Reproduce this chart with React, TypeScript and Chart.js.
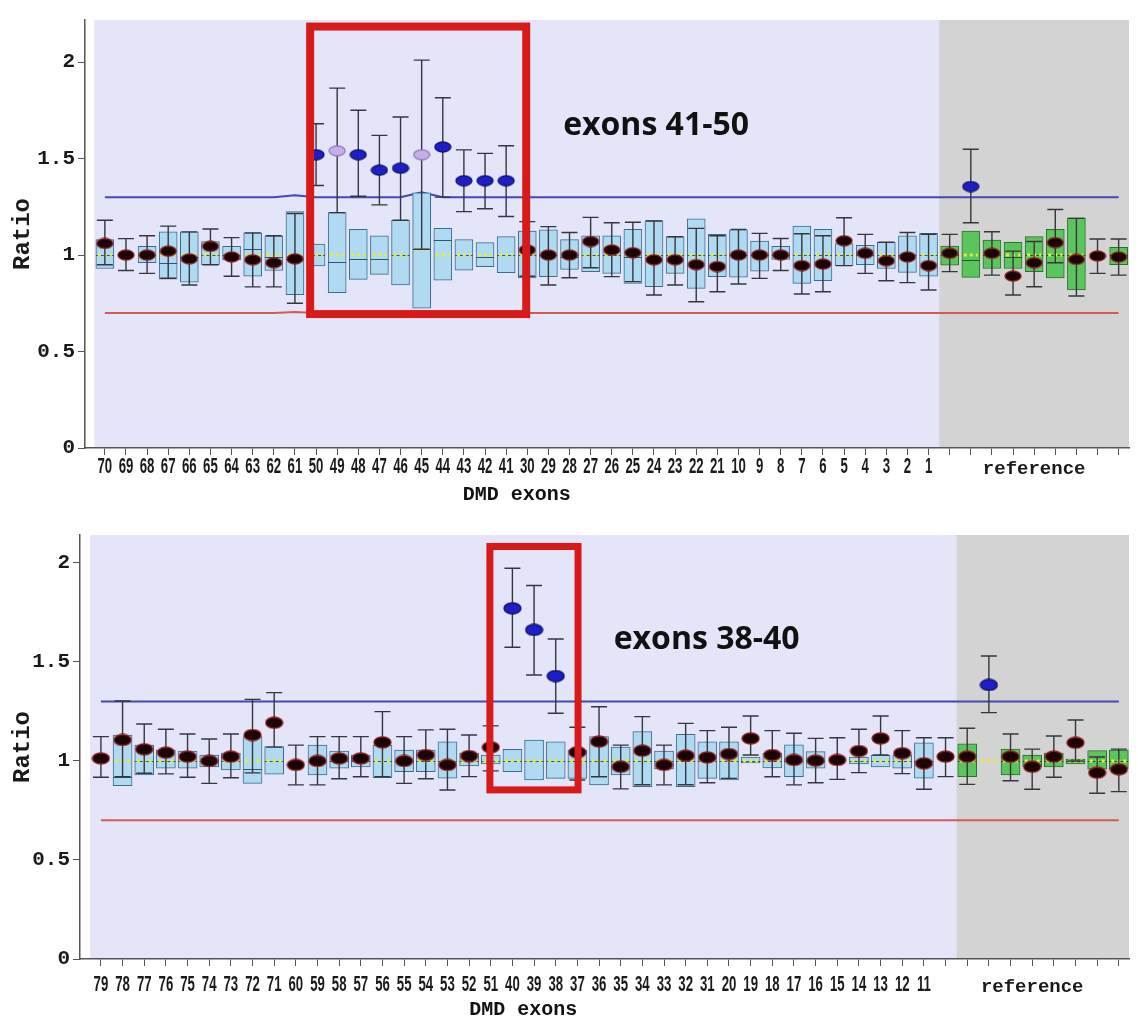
import React, { useEffect, useRef } from "react";
import { Chart, registerables } from "chart.js";

Chart.register(...registerables);

// ---------------- shared ----------------
const yTickValues = [0, 0.5, 1, 1.5, 2];

// ---------------- top panel: exons 41-50 ----------------
const topExonLabels = ["70","69","68","67","66","65","64","63","62","61","50","49","48","47","46","45","44","43","42","41","30","29","28","27","26","25","24","23","22","21","10","9","8","7","6","5","4","3","2","1"];
const topReferenceLabels = ["", "", "", "", "reference", "", "", "", ""];
const topSample = [1.06, 1.0, 1.0, 1.02, 0.98, 1.045, 0.99, 0.975, 0.96, 0.98,
  1.52, 1.54, 1.52, 1.44, 1.45, 1.52, 1.56, 1.385, 1.385, 1.385,
  1.026, 1.0, 1.0, 1.07, 1.026, 1.012, 0.975, 0.975, 0.95, 0.94,
  1.0, 1.0, 1.0, 0.945, 0.953, 1.074, 1.009, 0.97, 0.99, 0.945,
  1.009, 1.355, 1.009, 0.891, 0.96, 1.064, 0.977, 0.995, 0.99];
const topErrLow = [0.95, 0.92, 0.905, 0.88, 0.845, 0.95, 0.89, 0.835, 0.835, 0.75,
  1.36, 1.22, 1.305, 1.26, 1.18, 1.03, 1.30, 1.225, 1.24, 1.20,
  0.89, 0.845, 0.882, 0.934, 0.888, 0.862, 0.793, 0.845, 0.758, 0.81,
  0.85, 0.879, 0.92, 0.798, 0.81, 0.945, 0.905, 0.867, 0.857, 0.819,
  0.914, 1.167, 0.896, 0.793, 0.836, 0.96, 0.788, 0.905, 0.896];
const topErrHigh = [1.18, 1.085, 1.10, 1.15, 1.12, 1.135, 1.09, 1.115, 1.10, 1.215,
  1.68, 1.865, 1.75, 1.62, 1.715, 2.01, 1.815, 1.545, 1.527, 1.566,
  1.173, 1.147, 1.117, 1.195, 1.167, 1.17, 1.176, 1.095, 1.138, 1.10,
  1.133, 1.112, 1.086, 1.11, 1.10, 1.193, 1.107, 1.066, 1.117, 1.108,
  1.107, 1.548, 1.121, 1.02, 1.07, 1.236, 1.19, 1.083, 1.083];
const topBoxLow = [0.93, null, 0.96, 0.875, 0.86, 0.95, 0.975, 0.89, 0.92, 0.795,
  0.943, 0.805, 0.874, 0.90, 0.845, 0.724, 0.87, 0.922, 0.94, 0.908,
  0.882, 0.888, 0.926, 0.914, 0.905, 0.853, 0.836, 0.905, 0.827, 0.888,
  0.885, 0.917, 0.977, 0.853, 0.867, 0.945, 0.95, 0.93, 0.91, 0.89,
  0.948, 0.884, 0.93, 0.93, 0.914, 0.882, 0.819, null, 0.95];
const topBoxHigh = [1.08, null, 1.045, 1.12, 1.12, 1.07, 1.045, 1.115, 1.10, 1.225,
  1.057, 1.22, 1.133, 1.10, 1.18, 1.323, 1.138, 1.08, 1.064, 1.095,
  1.124, 1.13, 1.08, 1.10, 1.10, 1.133, 1.178, 1.095, 1.187, 1.107,
  1.13, 1.072, 1.045, 1.15, 1.133, 1.06, 1.05, 1.066, 1.10, 1.112,
  1.047, 1.124, 1.078, 1.066, 1.095, 1.133, 1.193, null, 1.04];
const topBoxMedian = [1.0, null, 1.0, 0.96, 0.99, 1.0, 1.0, 1.03, 0.99, 0.98,
  1.0, 0.965, 0.98, 0.98, 1.0, 1.03, 1.08, 1.0, 0.99, 1.0,
  1.0, 1.0, 0.99, 1.0, 1.0, 0.99, 1.0, 1.0, 1.0, 1.0,
  1.0, 1.0, 1.0, 1.0, 1.0, 1.0, 1.0, 1.0, 1.0, 1.0,
  1.0, 0.974, 1.0, 0.99, 1.0, 1.0, 1.0, null, 1.0];
const topBoxMean = [1.0, null, 1.0, 1.0, 1.0, 1.0, 1.0, 1.0, 1.0, 1.0,
  1.0, 1.0, 1.0, 1.0, 1.0, 1.03, 1.0, 1.0, 1.0, 1.0,
  1.0, 1.0, 1.0, 1.0, 1.0, 1.0, 1.0, 1.0, 1.0, 1.0,
  1.0, 1.0, 1.0, 1.0, 1.0, 1.0, 1.0, 1.0, 1.0, 1.0,
  1.0, 1.0, 1.0, 1.0, 1.0, 1.0, 1.0, null, 1.0];
const topUpperLimit = [1.3, 1.3, 1.3, 1.3, 1.3, 1.3, 1.3, 1.3, 1.3, 1.31,
  1.3, 1.3, 1.3, 1.3, 1.3, 1.325, 1.3, 1.3, 1.3, 1.3,
  1.3, 1.3, 1.3, 1.3, 1.3, 1.3, 1.3, 1.3, 1.3, 1.3,
  1.3, 1.3, 1.3, 1.3, 1.3, 1.3, 1.3, 1.3, 1.3, 1.3,
  1.3, 1.3, 1.3, 1.3, 1.3, 1.3, 1.3, 1.3, 1.3];
const topLowerLimit = [0.7, 0.7, 0.7, 0.7, 0.7, 0.7, 0.7, 0.7, 0.7, 0.705,
  0.7, 0.7, 0.7, 0.7, 0.7, 0.71, 0.7, 0.7, 0.7, 0.7,
  0.7, 0.7, 0.7, 0.7, 0.7, 0.7, 0.7, 0.7, 0.7, 0.7,
  0.7, 0.7, 0.7, 0.7, 0.7, 0.7, 0.7, 0.7, 0.7, 0.7,
  0.7, 0.7, 0.7, 0.7, 0.7, 0.7, 0.7, 0.7, 0.7];
const topLowConfidence = ["49", "45"];

// ---------------- bottom panel: exons 38-40 ----------------
const bottomExonLabels = ["79","78","77","76","75","74","73","72","71","60","59","58","57","56","55","54","53","52","51","40","39","38","37","36","35","34","33","32","31","20","19","18","17","16","15","14","13","12","11",""];
const bottomReferenceLabels = ["", "", "", "reference", "", "", "", ""];
const bottomSample = [1.013, 1.106, 1.059, 1.042, 1.022, 1.0, 1.022, 1.131, 1.193, 0.98,
  1.0, 1.013, 1.013, 1.094, 1.0, 1.03, 0.98, 1.025, 1.069, 1.771,
  1.662, 1.429, 1.044, 1.098, 0.971, 1.052, 0.98, 1.027, 1.018, 1.035,
  1.114, 1.03, 1.005, 1.002, 1.005, 1.05, 1.114, 1.039, 0.988, 1.022,
  1.022, 1.384, 1.022, 0.971, 1.022, 1.092, 0.941, 0.958];
const bottomErrLow = [0.918, 0.92, 0.938, 0.935, 0.918, 0.887, 0.915, 0.94, 1.07, 0.879,
  0.879, 0.91, 0.92, 0.92, 0.887, 0.91, 0.853, 0.921, 0.95, 1.574,
  1.434, 1.241, 0.904, 0.92, 0.859, 0.88, 0.879, 0.88, 0.89, 0.912,
  1.03, 0.92, 0.879, 0.89, 0.907, 0.941, 1.03, 0.936, 0.857, 0.921,
  0.882, 1.244, 0.90, 0.857, 0.918, 1.0, 0.837, 0.845];
const bottomErrHigh = [1.123, 1.303, 1.187, 1.16, 1.136, 1.111, 1.136, 1.311, 1.345, 1.08,
  1.123, 1.123, 1.123, 1.249, 1.123, 1.157, 1.16, 1.131, 1.177, 1.973,
  1.886, 1.616, 1.17, 1.274, 1.08, 1.224, 1.08, 1.19, 1.153, 1.17,
  1.227, 1.153, 1.14, 1.114, 1.117, 1.16, 1.227, 1.153, 1.117, 1.117,
  1.165, 1.53, 1.136, 1.06, 1.126, 1.207, 1.02, 1.06];
const bottomBoxLow = [null, 0.875, 0.93, 0.963, 0.963, 0.97, 0.955, 0.887, 0.933, null,
  0.93, 0.963, 0.97, 0.915, 0.946, 0.946, 0.913, 0.975, 0.985, 0.946,
  0.904, 0.912, 0.912, 0.879, 0.93, 0.87, 0.96, 0.87, 0.912, 0.904,
  0.99, 0.965, 0.921, 0.963, null, 0.985, 0.97, 0.963, 0.913, null,
  0.921, null, 0.93, 0.97, 0.97, 0.985, 0.958, 0.96];
const bottomBoxHigh = [null, 1.131, 1.08, 1.055, 1.05, 1.03, 1.04, 1.123, 1.072, null,
  1.08, 1.05, 1.03, 1.08, 1.055, 1.055, 1.097, 1.04, 1.03, 1.059,
  1.106, 1.097, 1.055, 1.123, 1.07, 1.148, 1.05, 1.135, 1.097, 1.097,
  1.02, 1.04, 1.081, 1.047, null, 1.02, 1.028, 1.03, 1.092, null,
  1.087, null, 1.06, 1.03, 1.04, 1.01, 1.052, 1.055];
const bottomBoxMedian = [null, 0.92, 1.0, 1.0, 1.0, 1.0, 1.0, 0.96, 1.0, null,
  1.0, 1.0, 1.0, 1.0, 1.0, 1.0, 1.0, 1.0, 1.0, 1.0,
  1.0, 1.0, 1.0, 1.0, 1.0, 1.0, 1.0, 1.0, 1.0, 1.0,
  1.0, 1.0, 1.0, 1.0, null, 1.0, 1.0, 1.0, 1.0, null,
  1.0, null, 1.0, 1.0, 1.0, 1.0, 1.0, 1.0];
const bottomBoxMean = [null, 1.0, 1.0, 1.0, 1.0, 1.0, 1.0, 1.0, 1.0, null,
  1.0, 1.0, 1.0, 1.0, 1.0, 1.0, 1.0, 1.0, 1.0, 1.0,
  1.0, 1.0, 1.0, 1.0, 1.0, 1.0, 1.0, 1.0, 1.0, 1.0,
  1.0, 1.0, 1.0, 1.0, null, 1.0, 1.0, 1.0, 1.0, null,
  1.0, 1.0, 1.0, 1.0, 1.0, 1.0, 1.0, 1.0];
const bottomUpperLimit = [1.3, 1.3, 1.3, 1.3, 1.3, 1.3, 1.3, 1.3, 1.3, 1.3,
  1.3, 1.3, 1.3, 1.3, 1.3, 1.3, 1.3, 1.3, 1.3, 1.3,
  1.3, 1.3, 1.3, 1.3, 1.3, 1.3, 1.3, 1.3, 1.3, 1.3,
  1.3, 1.3, 1.3, 1.3, 1.3, 1.3, 1.3, 1.3, 1.3, 1.3,
  1.3, 1.3, 1.3, 1.3, 1.3, 1.3, 1.3, 1.3];
const bottomLowerLimit = [0.7, 0.7, 0.7, 0.7, 0.7, 0.7, 0.7, 0.7, 0.7, 0.7,
  0.7, 0.7, 0.7, 0.7, 0.7, 0.7, 0.7, 0.7, 0.7, 0.7,
  0.7, 0.7, 0.7, 0.7, 0.7, 0.7, 0.7, 0.7, 0.7, 0.7,
  0.7, 0.7, 0.7, 0.7, 0.7, 0.7, 0.7, 0.7, 0.7, 0.7,
  0.7, 0.7, 0.7, 0.7, 0.7, 0.7, 0.7, 0.7];
const bottomLowConfidence: string[] = [];

// ---------------- styling ----------------
const MONO = "'Liberation Mono', 'DejaVu Sans Mono', monospace";
const LABEL_FONT = "'Liberation Sans', 'DejaVu Sans', sans-serif";
const NOTE_FONT = "'Open Sans', 'Noto Sans', sans-serif";

type Spec = {
  exonLabels: string[]; refLabels: string[]; sample: number[]; errLow: number[]; errHigh: number[];
  boxLow: (number | null)[]; boxHigh: (number | null)[]; median: (number | null)[]; mean: (number | null)[];
  upper: number[]; lower: number[]; lowConfidence: string[];
  xMin: number; xMax: number; yMax: number;
  highlight: { from: number; to: number; low: number; high: number; width: number };
  note: { text: string; x: number; y: number };
  height: number; axisWidth: number; axisHeight: number; padTop: number; labelGap: number;
  boxWidth: number; titleGap: number; dot: [number, number];
};

const topSpec: Spec = {
  exonLabels: topExonLabels, refLabels: topReferenceLabels, sample: topSample, errLow: topErrLow, errHigh: topErrHigh,
  boxLow: topBoxLow, boxHigh: topBoxHigh, median: topBoxMedian, mean: topBoxMean,
  upper: topUpperLimit, lower: topLowerLimit, lowConfidence: topLowConfidence,
  xMin: -0.94, xMax: 48.49, yMax: 2.218,
  highlight: { from: 9.72, to: 19.95, low: 0.694, high: 2.184, width: 8 },
  note: { text: "exons 41-50", x: 26.1, y: 1.67 },
  height: 508, axisWidth: 85, axisHeight: 60, padTop: 20, labelGap: 8, boxWidth: 18, titleGap: 47, dot: [16, 10],
};

const bottomSpec: Spec = {
  exonLabels: bottomExonLabels, refLabels: bottomReferenceLabels, sample: bottomSample, errLow: bottomErrLow, errHigh: bottomErrHigh,
  boxLow: bottomBoxLow, boxHigh: bottomBoxHigh, median: bottomBoxMedian, mean: bottomBoxMean,
  upper: bottomUpperLimit, lower: bottomLowerLimit, lowConfidence: bottomLowConfidence,
  xMin: -0.966, xMax: 47.47, yMax: 2.141,
  highlight: { from: 17.96, to: 22.03, low: 0.854, high: 2.083, width: 7 },
  note: { text: "exons 38-40", x: 27.97, y: 1.611 },
  height: 513, axisWidth: 80, axisHeight: 62, padTop: 27, labelGap: 15, boxWidth: 19, titleGap: 51, dot: [17, 11],
};

function ellipseSprite(fill: string, stroke: string, w: number, h: number) {
  const c = document.createElement("canvas");
  c.width = w + 2;
  c.height = h + 2;
  const g = c.getContext("2d")!;
  g.beginPath();
  g.ellipse((w + 2) / 2, (h + 2) / 2, w / 2, h / 2, 0, 0, Math.PI * 2);
  g.fillStyle = fill;
  g.fill();
  g.lineWidth = 1.3;
  g.strokeStyle = stroke;
  g.stroke();
  return c;
}

function buildChart(canvas: HTMLCanvasElement, spec: Spec) {
  const labels = [...spec.exonLabels, ...spec.refLabels];
  const n = labels.length;
  const refStart = spec.exonLabels.length;
  const idx = labels.map((_, i) => i);
  const [dw, dh] = spec.dot;
  const black = ellipseSprite("#1a0406", "#8a1c1c", dw, dh);
  const blue = ellipseSprite("#1e1ec8", "#12126e", dw, dh);
  const lav = ellipseSprite("#c6aee6", "#8f78c4", dw, dh);
  const styles = idx.map((i) =>
    spec.lowConfidence.includes(labels[i]) ? lav : spec.sample[i] > spec.upper[i] ? blue : black
  );
  const boxes = idx
    .filter((i) => spec.boxLow[i] != null)
    .map((i) => ({ x: i, y: [spec.boxLow[i] as number, spec.boxHigh[i] as number] }));

  const decor = {
    id: "decor",
    beforeDraw(chart: any) {
      const { ctx, chartArea: a, scales } = chart;
      const x = scales.x;
      ctx.save();
      ctx.fillStyle = "#ffffff";
      ctx.fillRect(0, 0, chart.width, chart.height);
      const xa = x.getPixelForValue(-0.5);
      const xb = x.getPixelForValue(refStart - 0.5);
      const xc = Math.min(x.getPixelForValue(n - 0.5), a.right);
      ctx.fillStyle = "#e5e5f9";
      ctx.fillRect(xa, a.top, xb - xa, a.bottom - a.top - 1);
      ctx.fillStyle = "#d3d3d3";
      ctx.fillRect(xb, a.top, xc - xb, a.bottom - a.top - 1);
      ctx.restore();
    },
    afterDatasetDraw(chart: any, args: any) {
      if (args.index !== 1) return;
      const { ctx, scales } = chart;
      const x = scales.x, y = scales.y;
      const half = spec.boxWidth / 2;
      const cap = 8;
      ctx.save();
      idx.forEach((i) => {
        const cx = x.getPixelForValue(i);
        const med = spec.median[i];
        if (med != null) {
          ctx.setLineDash([]);
          ctx.strokeStyle = i >= refStart ? "#1f5a1f" : "#2d5577";
          ctx.lineWidth = 1;
          const py = Math.round(y.getPixelForValue(med)) + 0.5;
          ctx.beginPath();
          ctx.moveTo(cx - half, py);
          ctx.lineTo(cx + half, py);
          ctx.stroke();
        }
        const mean = spec.mean[i];
        if (mean != null) {
          ctx.strokeStyle = "#e4ec3c";
          ctx.lineWidth = 3;
          ctx.setLineDash([3, 3]);
          const py = y.getPixelForValue(mean);
          ctx.beginPath();
          ctx.moveTo(cx - half + 2, py);
          ctx.lineTo(cx + half - 2, py);
          ctx.stroke();
        }
        ctx.setLineDash([]);
        ctx.strokeStyle = "#36363f";
        ctx.lineWidth = 1.4;
        const yl = y.getPixelForValue(spec.errLow[i]);
        const yh = y.getPixelForValue(spec.errHigh[i]);
        ctx.beginPath();
        ctx.moveTo(cx, yl);
        ctx.lineTo(cx, yh);
        ctx.moveTo(cx - cap, yl);
        ctx.lineTo(cx + cap, yl);
        ctx.moveTo(cx - cap, yh);
        ctx.lineTo(cx + cap, yh);
        ctx.stroke();
      });
      ctx.restore();
    },
    afterDraw(chart: any) {
      const { ctx, chartArea: a, scales } = chart;
      const x = scales.x, y = scales.y;
      const h = spec.highlight;
      ctx.save();
      // category labels under the x axis, narrow like the original
      ctx.fillStyle = "#1a1a1a";
      ctx.textAlign = "center";
      ctx.textBaseline = "top";
      x.ticks.forEach((t: any) => {
        const text = labels[t.value] ?? "";
        if (!text) return;
        const px = x.getPixelForValue(t.value);
        const py = a.bottom + spec.labelGap;
        ctx.save();
        ctx.translate(px, py);
        if (t.value >= refStart) {
          ctx.font = `bold 19px ${MONO}`;
          ctx.fillText(text, 0, 4);
        } else {
          ctx.scale(0.6, 1);
          ctx.font = `bold 22px ${LABEL_FONT}`;
          ctx.fillText(text, 0, 0);
        }
        ctx.restore();
      });
      // highlight box
      const x0 = x.getPixelForValue(h.from);
      const x1 = x.getPixelForValue(h.to);
      const y0 = y.getPixelForValue(h.high);
      const y1 = y.getPixelForValue(h.low);
      ctx.strokeStyle = "#d71a1a";
      ctx.lineWidth = h.width;
      ctx.strokeRect(x0, y0, x1 - x0, y1 - y0);
      // note
      ctx.fillStyle = "#111111";
      ctx.textAlign = "center";
      ctx.textBaseline = "middle";
      ctx.font = `bold 32px ${NOTE_FONT}`;
      ctx.fillText(spec.note.text, x.getPixelForValue(spec.note.x), y.getPixelForValue(spec.note.y));
      // x axis title
      ctx.font = `bold 20px ${MONO}`;
      ctx.fillText("DMD exons", x.getPixelForValue((refStart - 1) / 2), a.bottom + spec.titleGap);
      ctx.restore();
    },
  };

  return new Chart(canvas, {
    type: "bar",
    data: {
      datasets: [
        {
          type: "line",
          label: "upper limit",
          data: idx.map((i) => ({ x: i, y: spec.upper[i] })),
          borderColor: "#4646b4",
          borderWidth: 2,
          pointRadius: 0,
          order: 5,
        } as any,
        {
          type: "bar",
          label: "normal range",
          data: boxes,
          backgroundColor: (c: any) => (c.raw && c.raw.x >= refStart ? "#5cc45c" : "#b0d9f2"),
          borderColor: (c: any) => (c.raw && c.raw.x >= refStart ? "#2a7030" : "#3c6c8c"),
          borderWidth: 1,
          borderSkipped: false,
          barThickness: spec.boxWidth,
          order: 4,
        } as any,
        {
          type: "line",
          label: "lower limit",
          data: idx.map((i) => ({ x: i, y: spec.lower[i] })),
          borderColor: "#d45a5a",
          borderWidth: 2,
          pointRadius: 0,
          order: 5,
        } as any,
        {
          type: "line",
          label: "sample",
          data: idx.map((i) => ({ x: i, y: spec.sample[i] })),
          showLine: false,
          pointStyle: styles,
          pointRadius: 8,
          order: 1,
        } as any,
      ],
    },
    options: {
      animation: false,
      responsive: false,
      devicePixelRatio: 1,
      layout: { padding: { top: spec.padTop, right: 5, left: 0, bottom: 0 } },
      plugins: { legend: { display: false }, tooltip: { enabled: false } },
      scales: {
        x: {
          type: "linear",
          min: spec.xMin,
          max: spec.xMax,
          offset: false,
          afterBuildTicks: (s: any) => {
            s.ticks = idx.map((v) => ({ value: v }));
          },
          afterFit: (s: any) => {
            s.height = spec.axisHeight;
          },
          grid: { display: true, offset: false, drawOnChartArea: false, drawTicks: true, tickLength: 7, color: "#555555" },
          border: { display: true, color: "#555555", width: 1.5 },
          ticks: {
            display: false,
            autoSkip: false,
            callback: (v: any) => labels[v] ?? "",
          },
        },
        y: {
          type: "linear",
          min: 0,
          max: spec.yMax,
          afterBuildTicks: (s: any) => {
            s.ticks = yTickValues.map((v) => ({ value: v }));
          },
          afterFit: (s: any) => {
            s.width = spec.axisWidth;
          },
          grid: { display: true, drawOnChartArea: false, drawTicks: true, tickLength: 7, color: "#555555" },
          border: { display: true, color: "#555555", width: 1.5 },
          ticks: {
            padding: 3,
            color: "#1a1a1a",
            callback: (v: any) => String(v),
            font: { family: MONO, weight: "bold", size: 21 },
          },
          title: {
            display: true,
            text: "Ratio",
            color: "#1a1a1a",
            font: { family: MONO, weight: "bold", size: 24 },
            padding: { top: 9, bottom: 0 },
          },
        },
      },
    } as any,
    plugins: [decor],
  });
}

function Panel({ spec, top }: { spec: Spec; top: number }) {
  const ref = useRef<HTMLCanvasElement>(null);
  useEffect(() => {
    const chart = buildChart(ref.current!, spec);
    return () => chart.destroy();
  }, [spec]);
  return (
    <canvas
      ref={ref}
      width={1138}
      height={spec.height}
      style={{ position: "absolute", left: 0, top, width: 1138, height: spec.height, display: "block" }}
    />
  );
}

export default function App() {
  return (
    <div style={{ position: "absolute", left: 0, top: 0, width: 1138, height: 1021, background: "#ffffff", overflow: "hidden" }}>
      <Panel spec={topSpec} top={0} />
      <Panel spec={bottomSpec} top={508} />
    </div>
  );
}
